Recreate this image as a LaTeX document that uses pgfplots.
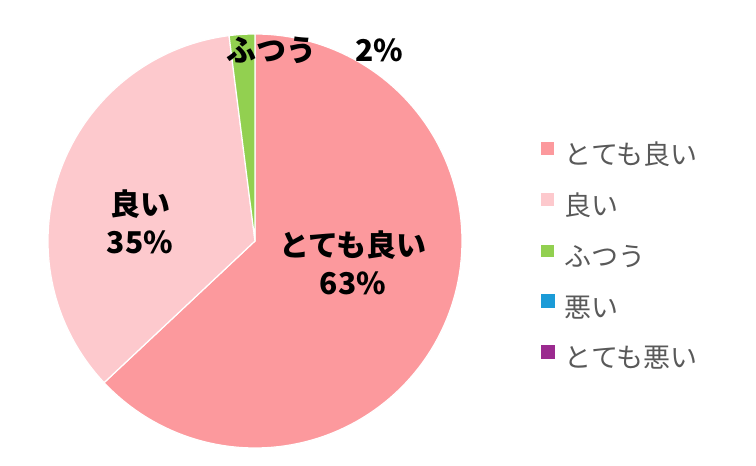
\documentclass[border=0pt]{standalone}
\usepackage{fontspec}
\setmainfont{Noto Sans CJK JP}
\usepackage{pgfplots}
\pgfplotsset{compat=1.18}

\definecolor{verygood}{HTML}{FC999D}
\definecolor{good}{HTML}{FDC9CD}
\definecolor{normal}{HTML}{92D050}
\definecolor{bad}{HTML}{1B9BD7}
\definecolor{verybad}{HTML}{9B2A8F}
\definecolor{legendgray}{HTML}{595959}

% shares in percent
\def\sA{63}  % とても良い
\def\sB{35}  % 良い
\def\sC{2}   % ふつう
\def\sD{0}   % 悪い
\def\sE{0}   % とても悪い

% pie centre and radius (axis units = bp)
\def\cx{255}
\def\cy{225}
\def\rr{207}

\pgfmathsetmacro\aA{90-3.6*\sA}
\pgfmathsetmacro\aB{\aA-3.6*\sB}
\pgfmathsetmacro\aC{\aB-3.6*\sC}

\begin{document}
\begin{tikzpicture}
\begin{axis}[
  width=756bp, height=466bp,
  scale only axis,
  xmin=0, xmax=756, ymin=0, ymax=466,
  hide axis,
  clip=false,
  legend style={at={(axis cs:537,327)}, anchor=north west, draw=none, fill=none,
    font=\fontsize{27bp}{32bp}\selectfont, text=legendgray,
    row sep=19.5bp,
    nodes={text height=18bp, text depth=6bp, inner ysep=2bp, inner xsep=9.5bp}},
  legend cell align=left,
  legend image code/.code={\fill[#1] (0bp,3bp) rectangle (14bp,17bp);},
]
\path (axis cs:0,0) rectangle (axis cs:756,466);

\addplot[fill=verygood, draw=white, line width=1.2bp, domain=\aA:90, samples=120]
  ({\cx+\rr*cos(x)}, {\cy+\rr*sin(x)}) -- (axis cs:\cx,\cy) -- cycle;
\addlegendentry{とても良い}
\addplot[fill=good, draw=white, line width=1.2bp, domain=\aB:\aA, samples=80]
  ({\cx+\rr*cos(x)}, {\cy+\rr*sin(x)}) -- (axis cs:\cx,\cy) -- cycle;
\addlegendentry{良い}
\addplot[fill=normal, draw=white, line width=1.2bp, domain=\aC:\aB, samples=10]
  ({\cx+\rr*cos(x)}, {\cy+\rr*sin(x)}) -- (axis cs:\cx,\cy) -- cycle;
\addlegendentry{ふつう}
\addlegendimage{fill=bad, draw=none}
\addlegendentry{悪い}
\addlegendimage{fill=verybad, draw=none}
\addlegendentry{とても悪い}

\node[font=\bfseries\fontsize{30bp}{38bp}\selectfont, align=center]
  at (axis cs:353,203) {とても良い\\63\%};
\node[font=\bfseries\fontsize{30bp}{38bp}\selectfont, align=center]
  at (axis cs:140,244) {良い\\35\%};
\node[font=\bfseries\fontsize{30bp}{38bp}\selectfont, anchor=base west]
  at (axis cs:223,404) {ふつう\hspace{39bp}2\%};
\end{axis}
\end{tikzpicture}
\end{document}
